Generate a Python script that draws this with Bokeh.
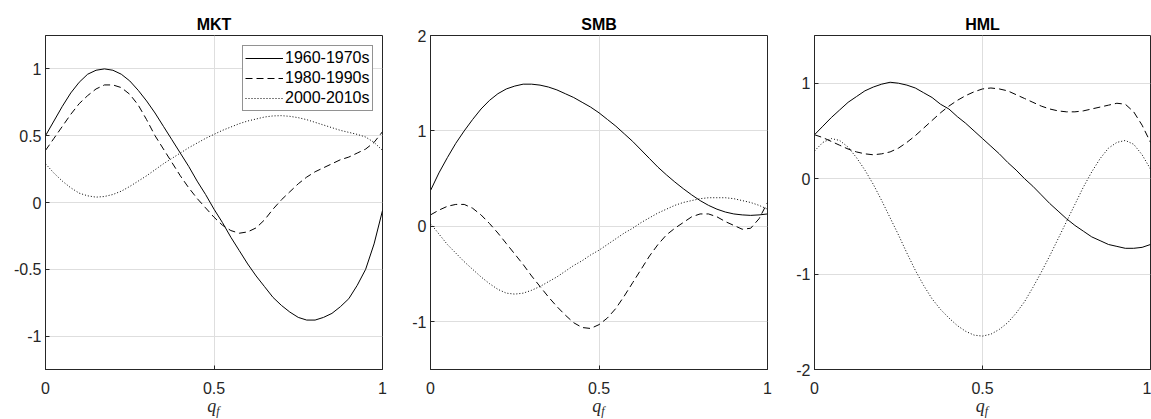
from bokeh.plotting import figure
from bokeh.layouts import row, column
from bokeh.models import FixedTicker, Range1d, Legend, LegendItem, Div
from bokeh.embed import file_html
from bokeh.resources import INLINE

# ---------------- data ----------------
Q = [round(i * 0.025, 3) for i in range(41)]

SERIES = ["1960-1970s", "1980-1990s", "2000-2010s"]
TITLES = ["MKT", "SMB", "HML"]

MKT_6070 = [0.50, 0.61, 0.72, 0.82, 0.90, 0.96, 0.99, 1.00, 0.99, 0.96,
            0.91, 0.84, 0.76, 0.67, 0.57, 0.47, 0.37, 0.27, 0.16, 0.06,
            -0.05, -0.15, -0.26, -0.36, -0.46, -0.55, -0.63, -0.71, -0.77, -0.82,
            -0.86, -0.88, -0.88, -0.86, -0.83, -0.78, -0.72, -0.62, -0.50, -0.31,
            -0.06]
MKT_8090 = [0.39, 0.48, 0.57, 0.66, 0.74, 0.80, 0.85, 0.88, 0.88, 0.86,
            0.81, 0.73, 0.62, 0.50, 0.40, 0.30, 0.20, 0.11, 0.03, -0.04,
            -0.11, -0.17, -0.21, -0.23, -0.22, -0.19, -0.13, -0.05, 0.02, 0.08,
            0.14, 0.19, 0.23, 0.26, 0.29, 0.32, 0.34, 0.37, 0.40, 0.45,
            0.53]
MKT_0010 = [0.29, 0.22, 0.16, 0.11, 0.07, 0.05, 0.04, 0.045, 0.06, 0.085,
            0.12, 0.16, 0.20, 0.245, 0.29, 0.33, 0.37, 0.41, 0.445, 0.48,
            0.51, 0.54, 0.565, 0.59, 0.61, 0.625, 0.64, 0.648, 0.65, 0.645,
            0.635, 0.62, 0.60, 0.58, 0.56, 0.54, 0.525, 0.51, 0.49, 0.45,
            0.39]

SMB_6070 = [0.375, 0.56, 0.72, 0.87, 1.00, 1.12, 1.23, 1.32, 1.39, 1.44,
            1.47, 1.49, 1.49, 1.48, 1.46, 1.43, 1.39, 1.35, 1.30, 1.25,
            1.19, 1.12, 1.05, 0.97, 0.89, 0.80, 0.71, 0.62, 0.54, 0.465,
            0.395, 0.33, 0.27, 0.22, 0.18, 0.15, 0.13, 0.12, 0.115, 0.12,
            0.13]
SMB_8090 = [0.12, 0.17, 0.21, 0.23, 0.23, 0.19, 0.12, 0.03, -0.07, -0.18,
            -0.29, -0.40, -0.52, -0.63, -0.74, -0.84, -0.93, -1.01, -1.06, -1.07,
            -1.03, -0.96, -0.86, -0.73, -0.59, -0.45, -0.31, -0.19, -0.09, -0.02,
            0.04, 0.10, 0.13, 0.13, 0.10, 0.05, 0.01, -0.03, -0.02, 0.08,
            0.25]
SMB_0010 = [0.03, -0.08, -0.19, -0.28, -0.37, -0.45, -0.53, -0.60, -0.66, -0.70,
            -0.71, -0.70, -0.67, -0.63, -0.58, -0.53, -0.47, -0.41, -0.36, -0.30,
            -0.25, -0.19, -0.13, -0.07, -0.02, 0.04, 0.09, 0.14, 0.18, 0.22,
            0.25, 0.27, 0.29, 0.30, 0.30, 0.30, 0.29, 0.27, 0.25, 0.22,
            0.18]

HML_6070 = [0.46, 0.55, 0.64, 0.72, 0.80, 0.86, 0.92, 0.96, 0.99, 1.01,
            1.00, 0.98, 0.95, 0.90, 0.85, 0.78, 0.73, 0.65, 0.58, 0.50,
            0.42, 0.34, 0.26, 0.17, 0.09, 0.00, -0.08, -0.17, -0.26, -0.34,
            -0.42, -0.49, -0.55, -0.61, -0.65, -0.69, -0.71, -0.73, -0.73, -0.72,
            -0.69]
HML_8090 = [0.46, 0.43, 0.39, 0.35, 0.31, 0.28, 0.26, 0.25, 0.26, 0.28,
            0.32, 0.38, 0.45, 0.53, 0.61, 0.69, 0.76, 0.82, 0.87, 0.91,
            0.94, 0.95, 0.94, 0.92, 0.88, 0.84, 0.80, 0.76, 0.73, 0.71,
            0.70, 0.70, 0.71, 0.73, 0.75, 0.77, 0.79, 0.78, 0.70, 0.56,
            0.38]
HML_0010 = [0.29, 0.38, 0.42, 0.40, 0.33, 0.22, 0.09, -0.06, -0.23, -0.41,
            -0.59, -0.78, -0.96, -1.12, -1.26, -1.37, -1.46, -1.54, -1.60, -1.64,
            -1.65, -1.63, -1.58, -1.51, -1.41, -1.29, -1.14, -0.98, -0.81, -0.63,
            -0.45, -0.27, -0.09, 0.07, 0.21, 0.32, 0.38, 0.40, 0.36, 0.25,
            0.10]

X_TICKS = [0, 0.5, 1]
X_TICK_LABELS = ["0", "0.5", "1"]
Y_RANGES = [(-1.25, 1.25), (-1.5, 2.0), (-2.0, 1.5)]
Y_TICKS = [[-1, -0.5, 0, 0.5, 1], [-1, 0, 1, 2], [-2, -1, 0, 1]]
Y_TICK_LABELS = [["-1", "-0.5", "0", "0.5", "1"], ["-1", "0", "1", "2"], ["-2", "-1", "0", "1"]]
X_LABEL_MAIN = "q"
X_LABEL_SUB = "f"

DATA = [[MKT_6070, MKT_8090, MKT_0010],
        [SMB_6070, SMB_8090, SMB_0010],
        [HML_6070, HML_8090, HML_0010]]

DASHES = ["solid", "7 4", "1 2"]
AX = "#262626"
GRID = "#dedede"
FONT = "Liberation Sans"

# figure geometry (width, left border, right border)
GEOM = [(392, 45, 10), (384, 38, 9), (375, 38, 1)]
H = 400
LABEL_H = 19


def make_fig(i):
    w, bl, br = GEOM[i]
    p = figure(width=w, height=H, output_backend="svg", toolbar_location=None,
               x_range=Range1d(0, 1), y_range=Range1d(*Y_RANGES[i]),
               min_border_left=bl, min_border_right=br,
               min_border_top=35, min_border_bottom=31,
               background_fill_color="white", border_fill_color="white")
    p.title.text = TITLES[i]
    p.title.align = "center"
    p.title.text_font = FONT
    p.title.text_font_size = "16px"
    p.title.text_font_style = "bold"
    p.title.text_color = "black"
    p.title.standoff = 5

    p.outline_line_color = AX
    p.outline_line_width = 1
    p.outline_line_alpha = 1

    xt = FixedTicker(ticks=X_TICKS)
    yt = FixedTicker(ticks=Y_TICKS[i])
    for ax in p.xaxis:
        ax.ticker = xt
        ax.major_label_overrides = dict(zip(X_TICKS, X_TICK_LABELS))
        ax.major_label_standoff = 12
    for ax in p.yaxis:
        ax.ticker = yt
        ax.major_label_overrides = dict(zip(Y_TICKS[i], Y_TICK_LABELS[i]))
        ax.major_label_standoff = 4
    for ax in list(p.xaxis) + list(p.yaxis):
        ax.axis_line_color = AX
        ax.major_tick_in = 4
        ax.major_tick_out = 0
        ax.major_tick_line_color = AX
        ax.minor_tick_line_color = None
        ax.major_label_text_font = FONT
        ax.major_label_text_font_size = "16px"
        ax.major_label_text_color = AX

    p.xgrid.grid_line_color = GRID
    p.ygrid.grid_line_color = GRID
    p.xgrid.ticker = xt
    p.ygrid.ticker = yt

    rends = []
    for s, dash in zip(DATA[i], DASHES):
        r = p.line(Q, s, line_color="black", line_width=1, line_dash=dash)
        rends.append(r)
    return p, rends


def make_xlabel(i):
    w, bl, br = GEOM[i]
    html = ('<i>%s</i><sub style="font-size:12px;vertical-align:-3px;line-height:0">'
            '<i>%s</i></sub>' % (X_LABEL_MAIN, X_LABEL_SUB))
    return Div(text=html, width=w - bl - br, height=LABEL_H, margin=(0, br, 0, bl),
               styles={"text-align": "center", "font-family": "Liberation Serif",
                       "font-size": "18px", "line-height": "13px", "color": AX,
                       "overflow": "visible"})


figs = []
labels = []
for i in range(3):
    p, rends = make_fig(i)
    if i == 0:
        leg = Legend(items=[LegendItem(label=lab, renderers=[r]) for lab, r in zip(SERIES, rends)],
                     location=(197, 258))
        leg.label_text_font = FONT
        leg.label_text_font_size = "16px"
        leg.label_text_color = "black"
        leg.glyph_width = 38
        leg.glyph_height = 20
        leg.label_height = 20
        leg.label_standoff = 2
        leg.padding = 2
        leg.spacing = 0
        leg.margin = 0
        leg.border_line_color = AX
        leg.border_line_width = 1
        leg.background_fill_alpha = 1
        p.add_layout(leg)
    figs.append(p)
    labels.append(make_xlabel(i))

layout = column(row(*figs), row(*labels))
open("out.html", "w").write(file_html(layout, INLINE))
